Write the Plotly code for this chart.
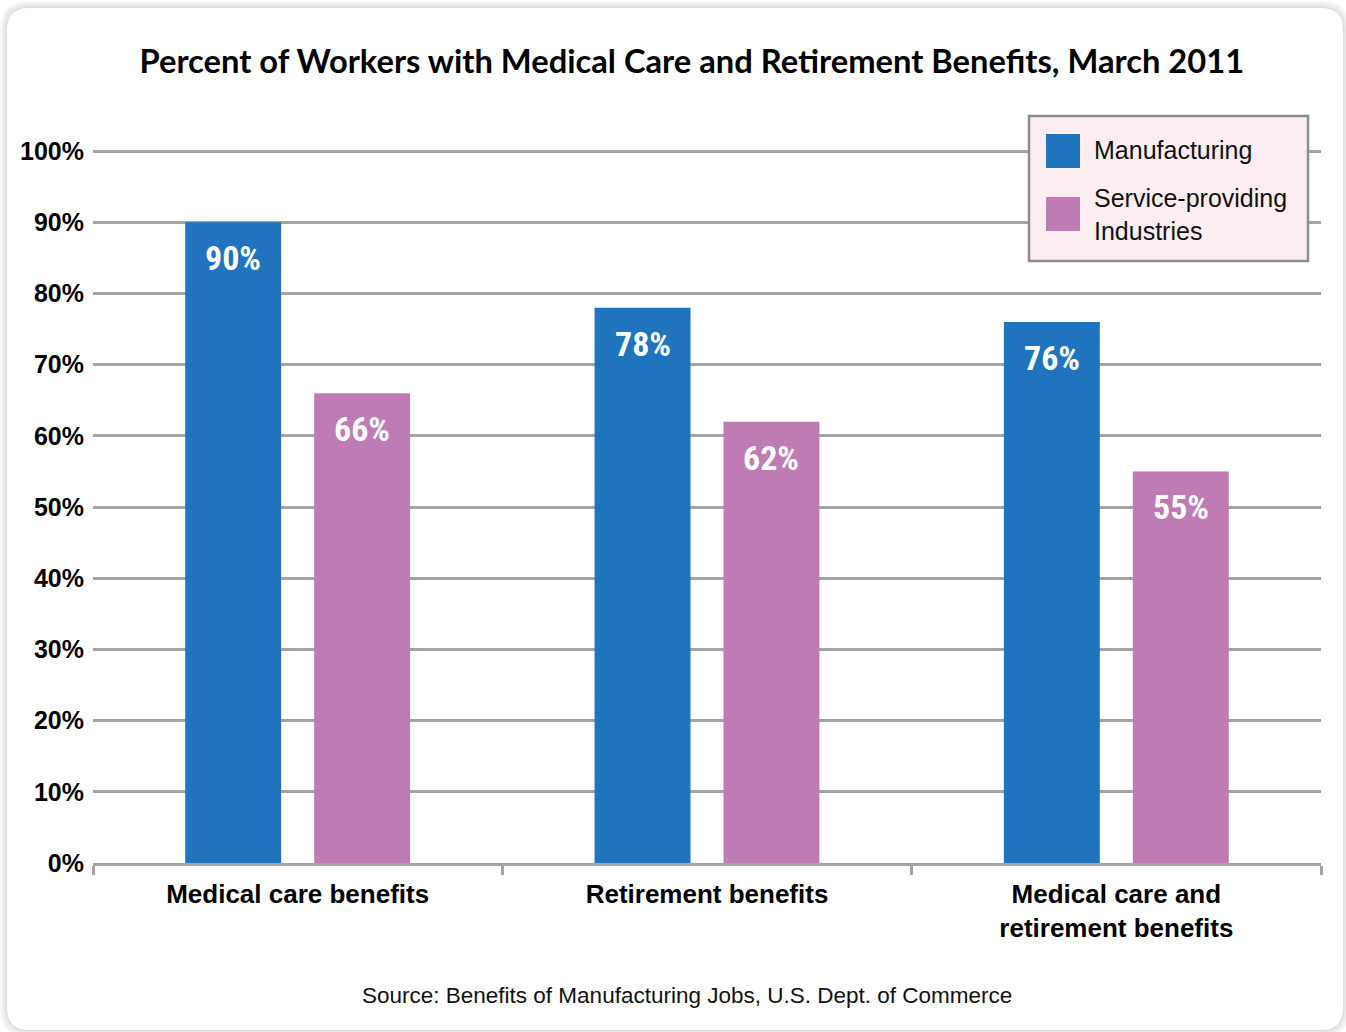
import plotly.graph_objects as go

# ---- data ----
categories = ["Medical care benefits", "Retirement benefits",
              "Medical care and<br>retirement benefits"]
series_names = ["Manufacturing", "Service-providing<br>Industries"]
manufacturing = [90, 78, 76]
service_providing = [66, 62, 55]
y_tick_values = [0, 10, 20, 30, 40, 50, 60, 70, 80, 90, 100]
y_tick_labels = [f"{v}%" for v in y_tick_values]
title_text = "Percent of Workers with Medical Care and Retirement Benefits, March 2011"
source_text = "Source: Benefits of Manufacturing Jobs, U.S. Dept. of Commerce"

# ---- style ----
W, H = 1346, 1032
M_L, M_R, M_T, M_B = 93, 25, 144, 169
PLOT_W = W - M_L - M_R
PLOT_H = H - M_T - M_B
BLUE = "#1f74bd"
PINK = "#be7bb4"
GRID = "#a4a4a4"
BARGAP = 0.37
BARGROUPGAP = 0.256
series_values = [manufacturing, service_providing]
series_colors = [BLUE, PINK]


def px_x(px):
    """Figure pixel x -> paper x."""
    return (px - M_L) / PLOT_W


def px_y(py):
    """Figure pixel y (from top) -> paper y."""
    return (H - M_B - py) / PLOT_H


def rounded_rect(x0, y0, x1, y1, r):
    """SVG path (paper units) for a rounded rectangle given in pixels."""
    rx, ry = r / PLOT_W, r / PLOT_H
    X0, X1 = px_x(x0), px_x(x1)
    Y0, Y1 = px_y(y0), px_y(y1)  # Y0 top, Y1 bottom
    return (f"M{X0 + rx},{Y0} L{X1 - rx},{Y0} Q{X1},{Y0} {X1},{Y0 - ry} "
            f"L{X1},{Y1 + ry} Q{X1},{Y1} {X1 - rx},{Y1} "
            f"L{X0 + rx},{Y1} Q{X0},{Y1} {X0},{Y1 + ry} "
            f"L{X0},{Y0 - ry} Q{X0},{Y0} {X0 + rx},{Y0} Z")


fig = go.Figure()
for name, vals, color in zip(series_names, series_values, series_colors):
    fig.add_trace(go.Bar(
        x=categories, y=vals, name=name.replace("<br>", " "),
        marker=dict(color=color, line=dict(width=0)),
        showlegend=False, hoverinfo="skip",
    ))

shapes = []
# card with soft shadow
card = (7, 8, 1343, 1030)
for grow, col in [(7, "#f6f6f6"), (5, "#eeeeee"), (3, "#e6e6e6"), (1, "#dcdcdc")]:
    shapes.append(dict(type="path", xref="paper", yref="paper", layer="below",
                       path=rounded_rect(card[0] - grow, card[1] - grow,
                                         card[2] + grow, card[3] + grow, 22 + grow),
                       fillcolor=col, line=dict(width=0)))
shapes.append(dict(type="path", xref="paper", yref="paper", layer="below",
                   path=rounded_rect(*card, 22), fillcolor="white", line=dict(width=0)))

# legend box
shapes.append(dict(type="rect", xref="paper", yref="paper", layer="above",
                   x0=px_x(1029), x1=px_x(1308), y0=px_y(261), y1=px_y(116),
                   fillcolor="#fcedf1", line=dict(color="#8c8c8c", width=2.5)))
legend_rows = [(134, 168, 150), (197, 231, 214)]
annotations = []
for (top, bottom, mid), name, color in zip(legend_rows, series_names, series_colors):
    shapes.append(dict(type="rect", xref="paper", yref="paper", layer="above",
                       x0=px_x(1046), x1=px_x(1080), y0=px_y(bottom), y1=px_y(top),
                       fillcolor=color, line=dict(width=0)))
    annotations.append(dict(xref="paper", yref="paper", x=px_x(1092), y=px_y(mid),
                            xanchor="left", yanchor="middle", align="left",
                            text=name, showarrow=False,
                            font=dict(family="Liberation Sans", size=25, color="#111111")))

# value labels inside the bars, just below each bar's top
slot = PLOT_W / len(categories) * (1 - BARGAP) / len(series_values)
for i, (vals, color) in enumerate(zip(series_values, series_colors)):
    shift = (i - (len(series_values) - 1) / 2) * slot
    for cat, v in zip(categories, vals):
        annotations.append(dict(x=cat, y=v, xref="x", yref="y", xshift=shift, yshift=-36,
                                xanchor="center", yanchor="middle", showarrow=False,
                                text=f"{v}%",
                                font=dict(family="Roboto Condensed, DejaVu Sans Condensed",
                                          size=34, color="white", weight="bold")))

# source line
annotations.append(dict(xref="paper", yref="paper", x=px_x(687), y=px_y(995),
                        xanchor="center", yanchor="middle", showarrow=False,
                        text=source_text,
                        font=dict(family="Liberation Sans", size=22.5, color="#111111")))

fig.update_layout(
    width=W, height=H,
    margin=dict(l=M_L, r=M_R, t=M_T, b=M_B, pad=0),
    paper_bgcolor="white", plot_bgcolor="rgba(0,0,0,0)",
    barmode="group", bargap=BARGAP, bargroupgap=BARGROUPGAP,
    title=dict(text=title_text, x=0.514, xanchor="center", y=1 - 62 / H,
               yanchor="middle", yref="container",
               font=dict(family="Lato", size=32.7, color="#000000", weight="bold")),
    shapes=shapes, annotations=annotations,
    showlegend=False,
    xaxis=dict(
        showgrid=False, showline=True, linecolor=GRID, linewidth=3,
        ticks="outside", tickson="boundaries", ticklen=9, tickwidth=3, tickcolor=GRID,
        ticklabelstandoff=6,
        tickfont=dict(family="Liberation Sans", size=26, color="#000000", weight="bold"),
        fixedrange=True,
    ),
    yaxis=dict(
        range=[0, 101], tickvals=y_tick_values, ticktext=y_tick_labels,
        showgrid=True, gridcolor=GRID, gridwidth=2.5, zeroline=False,
        showline=False, ticks="", ticklabelstandoff=8,
        tickfont=dict(family="Liberation Sans", size=25, color="#000000", weight="bold"),
        fixedrange=True,
    ),
)

fig.write_html("out.html")
